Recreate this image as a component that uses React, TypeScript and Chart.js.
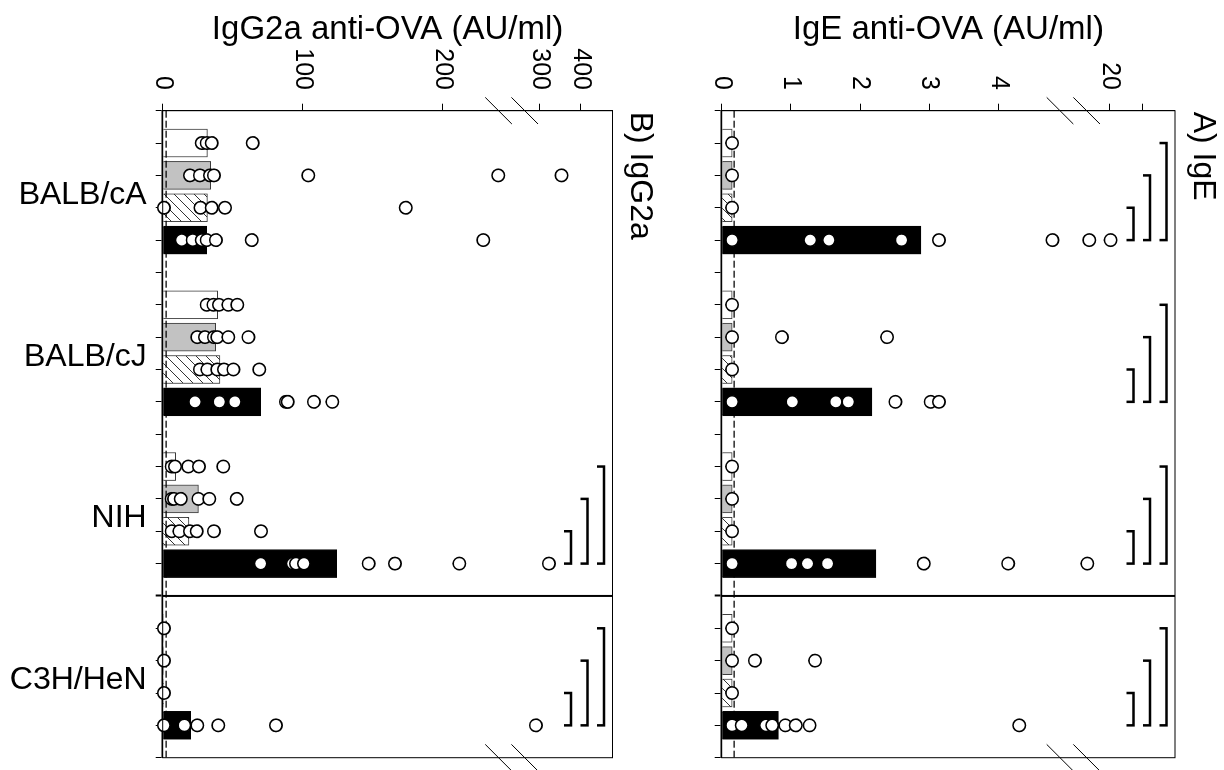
import React, { useEffect, useRef } from 'react';
import { Chart, registerables } from 'chart.js';

Chart.register(...registerables);

const FONT = '"Liberation Sans", Arial, Helvetica, sans-serif';
Chart.defaults.font.family = FONT;
Chart.defaults.color = '#000';

// ---------- categories ----------
const strains = ['BALB/cA', 'BALB/cJ', 'NIH', 'C3H/HeN'];
const groupNames = ['white', 'gray', 'hatched', 'black'];

// ---------- Panel A: IgE anti-OVA (AU/ml) ----------
const igeBarsWhite = [0.15, 0.15, 0.15, 0.15];
const igeBarsGray = [0.15, 0.15, 0.15, 0.15];
const igeBarsHatched = [0.15, 0.15, 0.15, 0.15];
const igeBarsBlack = [2.88, 2.17, 2.23, 0.82];
const igePointsWhite = [[0.15], [0.15], [0.15], [0.15]];
const igePointsGray = [[0.15], [0.15, 0.87, 2.39], [0.15], [0.15, 0.48, 1.35]];
const igePointsHatched = [[0.15], [0.15], [0.15], [0.15]];
const igePointsBlack = [
  [0.15, 1.28, 1.55, 2.6, 3.14, 4.78, 16.8, 20.1],
  [0.15, 1.02, 1.65, 1.83, 2.51, 3.02, 3.14],
  [0.15, 1.01, 1.24, 1.53, 2.92, 4.14, 16.5],
  [0.15, 0.29, 0.64, 0.73, 0.92, 1.07, 1.27, 4.3],
];
const igeTickValues = [0, 1, 2, 3, 4, 20, 25];
const igeTickLabels = ['0', '1', '2', '3', '4', '20', ''];
const igeDetectionLimit = 0.18;
const igeBracketStrains = [0, 1, 2, 3];
const igeBreakValues = [4.889, 5.274];

// ---------- Panel B: IgG2a anti-OVA (AU/ml) ----------
const iggBarsWhite = [31.9, 39.3, 9.3, 0.5];
const iggBarsGray = [34.3, 37.9, 25.5, 0.5];
const iggBarsHatched = [31.9, 40.9, 18.8, 0.5];
const iggBarsBlack = [31.4, 70, 124.3, 20];
const iggPointsWhite = [
  [27.9, 31.4, 35, 64.3],
  [31.4, 36.2, 40.2, 46.9, 53.3],
  [6.4, 8.8, 18.3, 25.9, 43.3],
  [0.9],
];
const iggPointsGray = [
  [19.5, 26.6, 33.8, 36.6, 104, 239.7, 353],
  [24.7, 30.2, 36.6, 39, 46.9, 61.2],
  [6.4, 8.1, 12.9, 25.5, 33.3, 52.9],
  [0.9],
];
const iggPointsHatched = [
  [0.9, 27, 35, 44.5, 173.6],
  [26.6, 31.9, 39, 43.8, 50.5, 69],
  [6.4, 11.9, 19.5, 24.3, 36.6, 70.2],
  [0.9],
];
const iggPointsBlack = [
  [13.6, 21.4, 27.9, 31.4, 38, 63.6, 229],
  [23.1, 40.5, 51.6, 88, 89.3, 108, 121.2],
  [70, 92.9, 95.2, 100.9, 147.1, 165.9, 211.9, 322],
  [0.9, 15.5, 24.7, 39.7, 80.9, 290],
];
const iggTickValues = [0, 100, 200, 300, 400];
const iggTickLabels = ['0', '100', '200', '300', '400'];
const iggDetectionLimit = 2.4;
const iggBracketStrains = [2, 3];
const iggBreakValues = [239.9, 258.6];

// broken value axis: lower segment identity, upper segment compressed
const brokenAxis = (lowMax: number, anchorValue: number, anchorPos: number, slope: number) =>
  (v: number) => (v <= lowMax ? v : anchorPos + (v - anchorValue) * slope);

const igeToAxis = brokenAxis(5, 20, 5.611, 0.0934);
const iggToAxis = brokenAxis(255, 300, 269.5, 0.2907);

const slotPos = (s: number, g: number) => s * 5 + g + 1;
const LABEL_SHIFT = 0.11;

function makeHatch(): CanvasPattern | string {
  const c = document.createElement('canvas');
  c.width = 10;
  c.height = 10;
  const g = c.getContext('2d');
  if (!g) return '#fff';
  g.fillStyle = '#fff';
  g.fillRect(0, 0, 10, 10);
  g.strokeStyle = '#333';
  g.lineWidth = 1;
  g.beginPath();
  g.moveTo(0, 10);
  g.lineTo(10, 0);
  g.moveTo(-1, 1);
  g.lineTo(1, -1);
  g.moveTo(9, 11);
  g.lineTo(11, 9);
  g.stroke();
  return g.createPattern(c, 'repeat') || '#fff';
}

interface PanelSpec {
  id: string;
  title: string;
  axisTitle: string;
  bars: number[][];
  points: number[][][];
  toAxis: (v: number) => number;
  max: number;
  tickValues: number[];
  tickLabels: string[];
  limit: number;
  breaks: number[];
  bracketStrains: number[];
  showStrainLabels: boolean;
  padTop: number;
  xAxisHeight: number;
}

function buildChart(canvas: HTMLCanvasElement, spec: PanelSpec) {
  const hatch = makeHatch();
  const fills: any[] = ['#ffffff', '#c2c2c2', hatch, '#000000'];
  const borders = ['#3a3a3a', '#3a3a3a', '#3a3a3a', '#000000'];

  const datasets: any[] = [];
  spec.bars.forEach((arr, g) => {
    datasets.push({
      type: 'bar',
      label: groupNames[g],
      data: arr.map((v, s) => ({ x: slotPos(s, g), y: spec.toAxis(v) })),
      backgroundColor: fills[g],
      borderColor: borders[g],
      borderWidth: 1,
      barThickness: 28,
      grouped: false,
      order: 3,
    });
  });
  const lim = spec.toAxis(spec.limit);
  datasets.push({
    type: 'line',
    data: [{ x: 0, y: lim }, { x: 20, y: lim }],
    borderColor: '#000',
    borderWidth: 1.3,
    borderDash: [7, 3],
    pointRadius: 0,
    fill: false,
    order: 2,
  });
  datasets.push({
    type: 'line',
    data: [{ x: 15, y: 0 }, { x: 15, y: spec.max }],
    borderColor: '#000',
    borderWidth: 2,
    pointRadius: 0,
    fill: false,
    order: 1,
  });
  const pts: { x: number; y: number }[] = [];
  spec.points.forEach((grp, g) =>
    grp.forEach((vals, s) => vals.forEach((v) => pts.push({ x: slotPos(s, g), y: spec.toAxis(v) })))
  );
  datasets.push({
    type: 'scatter',
    data: pts,
    pointRadius: 6.2,
    pointBackgroundColor: '#fff',
    pointBorderColor: '#000',
    pointBorderWidth: 1.6,
    order: 0,
    clip: false,
  });

  const intTicks = Array.from({ length: 21 }, (_, i) => i);
  const labelPositions = strains.map((_, s) => s * 5 + 2.5 + LABEL_SHIFT);
  const xTicks = (spec.showStrainLabels ? intTicks.concat(labelPositions) : intTicks).sort((a, b) => a - b);

  const decor = {
    id: 'decor-' + spec.id,
    afterDraw(chart: any) {
      const { ctx, chartArea: ca } = chart;
      const xs = chart.scales.x;
      const ys = chart.scales.y;
      ctx.save();
      ctx.strokeStyle = '#000';
      ctx.lineWidth = 1;
      ctx.strokeRect(ca.left, ca.top, ca.right - ca.left, ca.bottom - ca.top);
      // axis-break marks
      ctx.beginPath();
      spec.breaks.forEach((d) => {
        const py = ys.getPixelForValue(d);
        [ca.left, ca.right].forEach((ex: number) => {
          ctx.moveTo(ex - 13.3, py + 13.3);
          ctx.lineTo(ex + 13.3, py - 13.3);
        });
      });
      ctx.stroke();
      // significance brackets
      ctx.lineWidth = 2.5;
      ctx.lineJoin = 'miter';
      ctx.lineCap = 'butt';
      const levels: [number, number][] = [[2, 41.5], [1, 25], [0, 8.5]];
      spec.bracketStrains.forEach((s) => {
        levels.forEach(([g, off]) => {
          const x1 = xs.getPixelForValue(slotPos(s, g));
          const x2 = xs.getPixelForValue(slotPos(s, 3));
          const cy = ca.top + off;
          ctx.beginPath();
          ctx.moveTo(x1, cy + 7);
          ctx.lineTo(x1, cy);
          ctx.lineTo(x2, cy);
          ctx.lineTo(x2, cy + 7);
          ctx.stroke();
        });
      });
      // panel title
      ctx.fillStyle = '#000';
      ctx.font = `32px ${FONT}`;
      ctx.textAlign = 'left';
      ctx.textBaseline = 'middle';
      ctx.fillText(spec.title, ca.left + 1, ca.top - 27.5);
      ctx.restore();
    },
  };

  const zeroPad = (scale: any) => {
    scale.paddingTop = 0;
    scale.paddingBottom = 0;
    scale.paddingLeft = 0;
    scale.paddingRight = 0;
  };

  return new Chart(canvas, {
    type: 'bar',
    data: { datasets },
    options: {
      responsive: false,
      animation: false,
      devicePixelRatio: 1,
      events: [],
      layout: { padding: { top: spec.padTop, right: 12.3, bottom: 0, left: 0 } },
      plugins: { legend: { display: false }, tooltip: { enabled: false }, title: { display: false } },
      scales: {
        x: {
          type: 'linear',
          position: 'bottom',
          min: 0,
          max: 20,
          offset: false,
          afterBuildTicks: (scale: any) => {
            scale.ticks = xTicks.map((v) => ({ value: v }));
          },
          afterFit: (scale: any) => {
            scale.height = spec.xAxisHeight;
            zeroPad(scale);
          },
          ticks: {
            autoSkip: false,
            minRotation: 90,
            maxRotation: 90,
            padding: 9,
            font: { size: 32 },
            color: '#000',
            callback: (value: any) => {
              const i = labelPositions.indexOf(value);
              return spec.showStrainLabels && i >= 0 ? strains[i] : '';
            },
          },
          grid: {
            display: true,
            drawOnChartArea: false,
            drawTicks: true,
            tickLength: 7,
            offset: false,
            tickColor: (c: any) => (c.tick && Number.isInteger(c.tick.value) ? '#000' : 'rgba(0,0,0,0)'),
            tickWidth: (c: any) => (c.tick && c.tick.value === 15 ? 2 : 1),
          },
          border: { display: true, color: '#000', width: 1.5 },
        },
        y: {
          type: 'linear',
          position: 'left',
          min: 0,
          max: spec.max,
          afterBuildTicks: (scale: any) => {
            scale.ticks = spec.tickValues.map((v) => ({ value: spec.toAxis(v) }));
          },
          afterFit: (scale: any) => {
            scale.width = 110.7;
            zeroPad(scale);
          },
          ticks: {
            autoSkip: false,
            padding: 13.7,
            font: { size: 25 },
            color: '#000',
            callback: (_v: any, i: number) => spec.tickLabels[i],
          },
          grid: { display: true, drawOnChartArea: false, drawTicks: true, tickLength: 7, color: '#000' },
          border: { display: true, color: '#000', width: 1 },
          title: {
            display: true,
            text: spec.axisTitle,
            font: { size: 33 },
            color: '#000',
            padding: { top: 10, bottom: 0 },
          },
        },
      },
    } as any,
    plugins: [decor],
  } as any);
}

const igeSpec: PanelSpec = {
  id: 'ige',
  title: 'A) IgE',
  axisTitle: 'IgE anti-OVA (AU/ml)',
  bars: [igeBarsWhite, igeBarsGray, igeBarsHatched, igeBarsBlack],
  points: [igePointsWhite, igePointsGray, igePointsHatched, igePointsBlack],
  toAxis: igeToAxis,
  max: 6.551,
  tickValues: igeTickValues,
  tickLabels: igeTickLabels,
  limit: igeDetectionLimit,
  breaks: igeBreakValues,
  bracketStrains: igeBracketStrains,
  showStrainLabels: false,
  padTop: 49,
  xAxisHeight: 41.7,
};

const iggSpec: PanelSpec = {
  id: 'igg',
  title: 'B) IgG2a',
  axisTitle: 'IgG2a anti-OVA (AU/ml)',
  bars: [iggBarsWhite, iggBarsGray, iggBarsHatched, iggBarsBlack],
  points: [iggPointsWhite, iggPointsGray, iggPointsHatched, iggPointsBlack],
  toAxis: iggToAxis,
  max: 321.3,
  tickValues: iggTickValues,
  tickLabels: iggTickLabels,
  limit: iggDetectionLimit,
  breaks: iggBreakValues,
  bracketStrains: iggBracketStrains,
  showStrainLabels: true,
  padTop: 67.5,
  xAxisHeight: 162.7,
};

export default function App() {
  const igeRef = useRef<HTMLCanvasElement | null>(null);
  const iggRef = useRef<HTMLCanvasElement | null>(null);

  useEffect(() => {
    const charts: Chart[] = [];
    if (igeRef.current) charts.push(buildChart(igeRef.current, igeSpec));
    if (iggRef.current) charts.push(buildChart(iggRef.current, iggSpec));
    return () => charts.forEach((c) => c.destroy());
  }, []);

  return (
    <div
      style={{
        position: 'fixed',
        left: 0,
        top: 0,
        width: 770,
        height: 1224,
        transformOrigin: '0 0',
        transform: 'translate(1224px, 0px) rotate(90deg)',
        background: '#fff',
      }}
    >
      <canvas ref={igeRef} width={770} height={544} style={{ position: 'absolute', left: 0, top: 0 }} />
      <canvas ref={iggRef} width={770} height={680} style={{ position: 'absolute', left: 0, top: 544 }} />
    </div>
  );
}
